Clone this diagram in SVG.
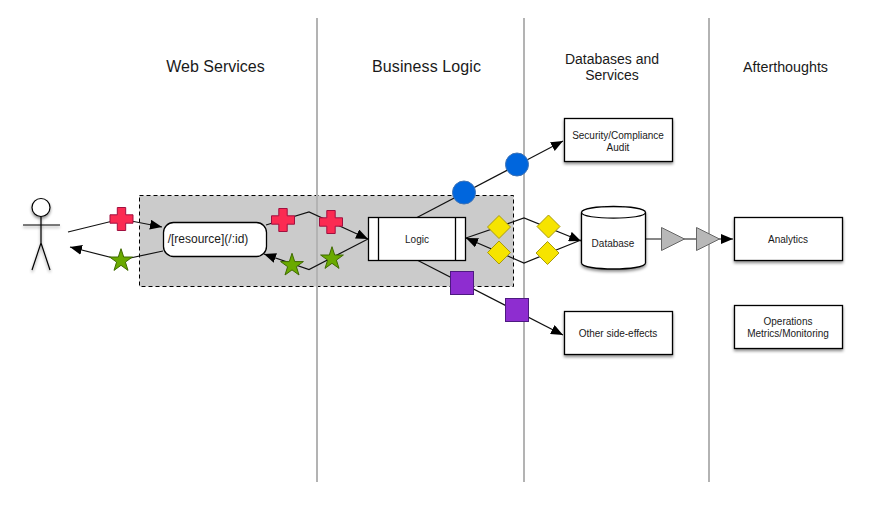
<svg xmlns="http://www.w3.org/2000/svg" width="879" height="510" viewBox="0 0 879 510">
<style>
text{font-family:"Liberation Sans",Arial,sans-serif;fill:#1a1a1a;text-anchor:middle}
.t{font-size:16px}.s{font-size:10px}
.lane{stroke:#b3b3b3;stroke-width:2;fill:none}
.c{fill:none;stroke:#111;stroke-width:1.2}
.a{marker-end:url(#arr)}
.box{fill:#fff;stroke:#000;stroke-width:1.3}
.sh{filter:url(#sh)}
.cross{fill:#fb2b52;stroke:#a01040;stroke-width:1}
.star{fill:#6aaa00;stroke:#3f6a00;stroke-width:1}
.circ{fill:#0066dd;stroke:#3f73b5;stroke-width:1}
.sq{fill:#8e2dd0;stroke:#4d1a80;stroke-width:1}
.dia{fill:#f6e400;stroke:#a89a10;stroke-width:1}
.tri{fill:#b8b8b8;stroke:#666;stroke-width:1}
</style>
<defs>
<filter id="sh" x="-20%" y="-20%" width="140%" height="150%"><feDropShadow dx="0" dy="2" stdDeviation="1.5" flood-color="#000" flood-opacity="0.45"/></filter>
<marker id="arr" viewBox="0 0 12 10" refX="12" refY="5" markerWidth="12" markerHeight="10" markerUnits="userSpaceOnUse" orient="auto"><path d="M0 0L12 5L0 10Z" fill="#000"/></marker>
<path id="cr" d="M-4.200-11.500H4.200V-4.200H11.500V4.200H4.200V11.500H-4.200V4.200H-11.500V-4.200H-4.200Z"/>
<path id="st" d="M0-12L2.700-3.700H11.400L4.400 1.400L7 9.700L0 4.600L-7 9.700L-4.400 1.400L-11.400-3.700H-2.700Z"/>
<path id="di" d="M0-11.500L11.500 0L0 11.500L-11.500 0Z"/>
<path id="tr" d="M0-11.500L23 0L0 11.500Z"/>
</defs>
<g id="group-area"><rect x="139.500" y="195.500" width="374" height="91" fill="#cbcbcb" stroke="#000" stroke-width="1" stroke-dasharray="4 3"/></g>
<g id="lanes">
<path class="lane" d="M317 18V482M524 18V482M709 18V482"/>
</g>
<g id="titles">
<text class="t" x="215.500" y="71.500">Web Services</text>
<text class="t" x="426.500" y="72" textLength="109">Business Logic</text>
<text x="612" y="64" font-size="14">Databases and</text>
<text x="612" y="80" font-size="14">Services</text>
<text x="785.500" y="72" font-size="14.300">Afterthoughts</text>
</g>
<g id="connectors">
<path class="c a" d="M68 232L121 219L162 227"/>
<path class="c a" d="M163 251L121 260L70 247"/>
<path class="c a" d="M266 225L309 212L368 239"/>
<path class="c a" d="M368 239L309 269.500L264 254"/>
<path class="c a" d="M417 217.500L563 141"/>
<path class="c a" d="M417 260L563 335"/>
<path class="c a" d="M466 238L524 218L581 241"/>
<path class="c a" d="M581 240L524 263L466 238"/>
<path class="c a" d="M645 239H733"/>
</g>
<g id="actor" class="sh" fill="none" stroke="#000" stroke-width="1.2">
<circle cx="41" cy="207.500" r="9" fill="#fff"/>
<path d="M23 225H60M41 216.500V243L32 270M41 243L50 270"/>
</g>
<g id="resource"><rect class="box" x="163.500" y="222.500" width="103" height="34" rx="10"/><text x="208" y="243" font-size="12">/[resource](/:id)</text></g>
<g id="logic"><rect class="box" x="368.500" y="217.500" width="97" height="43"/><path d="M378.500 217.500V260.500M455.500 217.500V260.500" stroke="#000" stroke-width="1.300" fill="none"/><text class="s" x="417" y="243">Logic</text></g>
<g id="security"><rect class="box sh" x="564.500" y="118.500" width="108" height="43"/><text class="s" x="618" y="139">Security/Compliance</text><text class="s" x="618" y="151">Audit</text></g>
<g id="database"><path class="box sh" d="M581.500 212.500C581.500 204.500 645.500 204.500 645.500 212.500V263C645.500 271 581.500 271 581.500 263Z"/><path d="M581.500 212.500C581.500 220 645.500 220 645.500 212.500" fill="none" stroke="#000" stroke-width="1.200"/><text class="s" x="613" y="247">Database</text></g>
<g id="other"><rect class="box sh" x="564.500" y="311.500" width="108" height="43"/><text class="s" x="618" y="337">Other side-effects</text></g>
<g id="analytics"><rect class="box sh" x="734.500" y="217.500" width="108" height="43"/><text class="s" x="788" y="243">Analytics</text></g>
<g id="operations"><rect class="box sh" x="734.500" y="305.500" width="108" height="43"/><text class="s" x="788" y="325">Operations</text><text class="s" x="788" y="337">Metrics/Monitoring</text></g>
<g id="tokens">
<use href="#cr" class="cross" x="121.500" y="219"/>
<use href="#cr" class="cross" x="283" y="220"/>
<use href="#cr" class="cross" x="331" y="222"/>
<use href="#st" class="star" x="121" y="260.700"/>
<use href="#st" class="star" x="292" y="265.300"/>
<use href="#st" class="star" x="332" y="258.700"/>
<circle class="circ" cx="464" cy="192.500" r="11.500"/>
<circle class="circ" cx="517" cy="164.500" r="11.500"/>
<rect class="sq" x="450.500" y="271.500" width="23" height="23"/>
<rect class="sq" x="505.500" y="298.500" width="23" height="23"/>
<use href="#di" class="dia" x="499" y="227"/>
<use href="#di" class="dia" x="499" y="252.500"/>
<use href="#di" class="dia" x="548.500" y="226.500"/>
<use href="#di" class="dia" x="547.500" y="253"/>
<use href="#tr" class="tri" x="661.500" y="239"/>
<use href="#tr" class="tri" x="696.500" y="239"/>
</g>
</svg>
